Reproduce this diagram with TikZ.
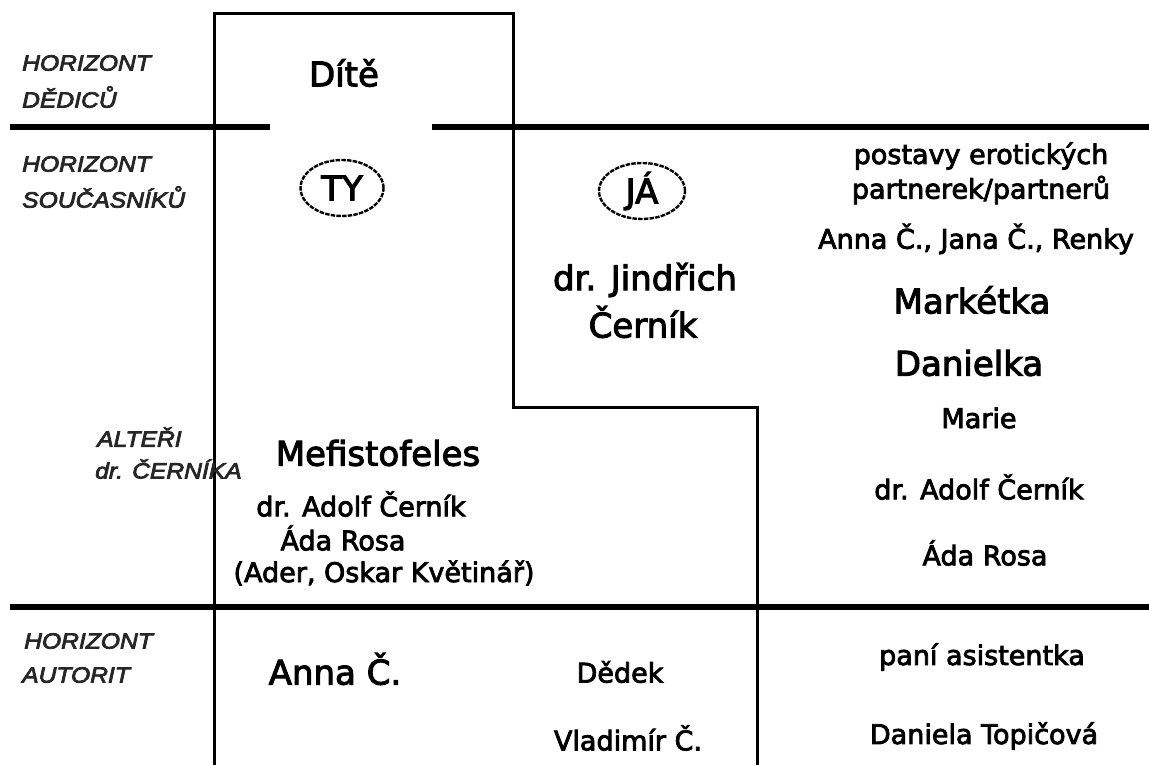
\documentclass[tikz,border=0pt]{standalone}
\usepackage{fontspec}
\setmainfont{DejaVu Sans}[FakeBold=3]
\newfontfamily\labfont{Liberation Sans}[FakeStretch=1.12,FakeBold=3.5]
\usetikzlibrary{shapes.geometric}
\tikzset{
  big/.style={font=\fontsize{34}{40}\selectfont, inner sep=0pt},
  small/.style={font=\fontsize{27}{32}\selectfont, inner sep=0pt},
  lab/.style={font=\labfont\itshape\fontsize{22}{26}\selectfont, anchor=west, inner sep=0pt, text=black!85},
  thinline/.style={line width=3pt},
  thickline/.style={line width=6pt},
  ego/.style={ellipse, draw, line width=2.4pt, dash pattern=on 4.5pt off 1.2pt, inner sep=0pt, font=\fontsize{34}{40}\selectfont}
}
\begin{document}
\begin{tikzpicture}[x=1pt,y=-1pt]
\useasboundingbox[fill=white] (0,0) rectangle (1149,765);
% frame coordinates
\coordinate (b0) at (214,765);
\coordinate (c1) at (214,14);
\coordinate (c2) at (513,14);
\coordinate (c3) at (513,407);
\coordinate (c4) at (757,407);
\coordinate (b1) at (757,765);
\coordinate (h1a) at (10,127);
\coordinate (h1b) at (270,127);
\coordinate (h1c) at (432,127);
\coordinate (h1d) at (1149,127);
\coordinate (h2a) at (10,607);
\coordinate (h2b) at (1149,607);
\draw[thinline] (b0) -- (c1) -- (c2) -- (c3) -- (c4) -- (b1);
\draw[thickline] (h1a) -- (h1b);
\draw[thickline] (h1c) -- (h1d);
\draw[thickline] (h2a) -- (h2b);
% left labels
\node[lab] (l1) at (22,63) {HORIZONT};
\node[lab] (l2) at (22,97) {DĚDICŮ};
\node[lab] (l3) at (22,164) {HORIZONT};
\node[lab] (l4) at (22,197) {SOUČASNÍKŮ};
\node[lab] (l5) at (97,437) {ALTEŘI};
\node[lab] (l6) at (95,469) {dr. ČERNÍKA};
\node[lab] (l7) at (24,641) {HORIZONT};
\node[lab] (l8) at (22,675) {AUTORIT};
% column TY
\node[big] (dite) at (344,73) {Dítě};
\node[ego, minimum width=83pt, minimum height=56pt] (ty) at (342,188) {TY};
\node[big] (mef) at (378,453) {Mefistofeles};
\node[small] (adolf1) at (361,504) {dr. Adolf Černík};
\node[small] (ada1) at (343,538) {Áda Rosa};
\node[small] (ader) at (384,573) {(Ader, Oskar Květinář)};
\node[big] (annac) at (335,669) {Anna Č.};
% column JA
\node[ego, minimum width=86pt, minimum height=56pt] (ja) at (642,191) {JÁ};
\node[big] (jind) at (645,280) {dr. Jindřich};
\node[big] (cern) at (643,322) {Černík};
\node[small] (dedek) at (620,672) {Dědek};
\node[small] (vlad) at (628,738) {Vladimír Č.};
% right column
\node[small] (post1) at (981,156) {postavy erotických};
\node[small] (post2) at (981,190) {partnerek/partnerů};
\node[small] (anna2) at (976,239) {Anna Č., Jana Č., Renky};
\node[big] (mark) at (972,300) {Markétka};
\node[big] (dan) at (969,363) {Danielka};
\node[small] (marie) at (979,418) {Marie};
\node[small] (adolf2) at (979,487) {dr. Adolf Černík};
\node[small] (ada2) at (985,553) {Áda Rosa};
\node[small] (pani) at (982,657) {paní asistentka};
\node[small] (topic) at (984,736) {Daniela Topičová};
\end{tikzpicture}
\end{document}
